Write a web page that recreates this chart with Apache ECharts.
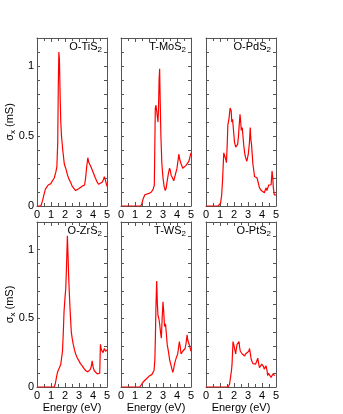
<!DOCTYPE html>
<html>
<head>
<meta charset="utf-8">
<script src="https://cdn.jsdelivr.net/npm/echarts@6/dist/echarts.min.js"></script>
<style>
  html, body { margin: 0; padding: 0; background: #fff; }
  #chart { width: 343px; height: 414px; }
</style>
</head>
<body>
<div id="chart"></div>
<script>
// panel names (sub "2" added as rich text)
const names = ["O-TiS", "T-MoS", "O-PdS", "O-ZrS", "T-WS", "O-PtS"];
const xTicks = [0, 1, 2, 3, 4, 5];
const yLabels = [0, 0.5, 1];

// O-TiS2
const tisE = [0, 0.28, 0.4, 0.52, 0.6, 0.64, 0.72, 0.8, 0.9, 0.99, 1.1, 1.23, 1.34, 1.42, 1.48, 1.52, 1.56, 1.6, 1.65, 1.7, 1.75, 1.84, 1.95, 2.05, 2.18, 2.29, 2.4, 2.52, 2.65, 2.76, 2.9, 3.0, 3.1, 3.2, 3.3, 3.4, 3.47, 3.55, 3.63, 3.7, 3.77, 3.85, 3.94, 4.05, 4.17, 4.3, 4.41, 4.53, 4.65, 4.75, 4.81, 4.9, 5.0];
const tisV = [0, 0, 0.04, 0.09, 0.12, 0.13, 0.12, 0.15, 0.14, 0.16, 0.18, 0.2, 0.24, 0.28, 0.45, 0.85, 1.1, 1.05, 0.8, 0.6, 0.5, 0.4, 0.3, 0.27, 0.22, 0.19, 0.17, 0.14, 0.13, 0.11, 0.12, 0.125, 0.12, 0.14, 0.13, 0.15, 0.2, 0.28, 0.345, 0.31, 0.3, 0.28, 0.27, 0.23, 0.2, 0.17, 0.155, 0.16, 0.17, 0.19, 0.21, 0.18, 0.14];
// T-MoS2
const mosE = [0, 1.42, 1.5, 1.58, 1.7, 1.82, 2.0, 2.17, 2.3, 2.38, 2.45, 2.5, 2.55, 2.6, 2.64, 2.68, 2.72, 2.76, 2.8, 2.85, 2.92, 3.0, 3.08, 3.16, 3.23, 3.3, 3.4, 3.47, 3.53, 3.58, 3.68, 3.77, 3.85, 3.9, 4.0, 4.08, 4.13, 4.2, 4.3, 4.41, 4.55, 4.65, 4.75, 4.85, 5.0];
const mosV = [0, 0, 0.02, 0.05, 0.08, 0.09, 0.09, 0.1, 0.12, 0.15, 0.7, 0.72, 0.73, 0.72, 0.6, 0.7, 0.9, 0.98, 0.75, 0.5, 0.3, 0.2, 0.14, 0.11, 0.13, 0.18, 0.24, 0.27, 0.25, 0.22, 0.2, 0.18, 0.17, 0.18, 0.27, 0.33, 0.37, 0.33, 0.3, 0.27, 0.27, 0.29, 0.3, 0.32, 0.38];
// O-PdS2
const pdsE = [0, 0.87, 0.95, 1.04, 1.12, 1.18, 1.27, 1.32, 1.37, 1.42, 1.46, 1.52, 1.56, 1.65, 1.72, 1.75, 1.8, 1.84, 1.9, 1.93, 2.0, 2.03, 2.12, 2.2, 2.26, 2.32, 2.36, 2.43, 2.48, 2.52, 2.59, 2.64, 2.69, 2.76, 2.83, 2.92, 3.02, 3.1, 3.16, 3.2, 3.25, 3.35, 3.47, 3.58, 3.65, 3.7, 3.82, 3.95, 4.06, 4.17, 4.29, 4.35, 4.41, 4.48, 4.53, 4.6, 4.65, 4.72, 4.77, 4.81, 4.88, 5.0];
const pdsV = [0, 0, 0.005, 0.02, 0.08, 0.18, 0.38, 0.37, 0.39, 0.33, 0.31, 0.45, 0.58, 0.63, 0.7, 0.71, 0.68, 0.6, 0.62, 0.58, 0.5, 0.46, 0.42, 0.42, 0.44, 0.5, 0.56, 0.655, 0.6, 0.54, 0.56, 0.5, 0.44, 0.38, 0.345, 0.32, 0.37, 0.45, 0.56, 0.48, 0.44, 0.3, 0.21, 0.22, 0.2, 0.21, 0.13, 0.11, 0.1, 0.095, 0.13, 0.11, 0.12, 0.15, 0.14, 0.155, 0.15, 0.25, 0.2, 0.13, 0.08, 0.08];
// O-ZrS2
const zrsE = [0, 1.23, 1.3, 1.39, 1.45, 1.51, 1.6, 1.7, 1.76, 1.82, 1.88, 1.93, 2.0, 2.05, 2.1, 2.17, 2.22, 2.26, 2.31, 2.36, 2.45, 2.52, 2.59, 2.68, 2.76, 2.88, 3.0, 3.1, 3.23, 3.35, 3.47, 3.63, 3.75, 3.82, 3.9, 3.94, 4.0, 4.08, 4.17, 4.3, 4.41, 4.48, 4.53, 4.6, 4.65, 4.72, 4.81, 4.9, 5.0];
const zrsV = [0, 0, 0.02, 0.07, 0.1, 0.12, 0.14, 0.166, 0.18, 0.26, 0.4, 0.545, 0.65, 0.71, 0.85, 1.1, 0.95, 0.81, 0.68, 0.57, 0.4, 0.35, 0.31, 0.27, 0.24, 0.21, 0.19, 0.17, 0.154, 0.135, 0.12, 0.11, 0.115, 0.13, 0.16, 0.19, 0.15, 0.12, 0.107, 0.095, 0.083, 0.1, 0.31, 0.27, 0.26, 0.25, 0.28, 0.26, 0.27];
// T-WS2
const wsE = [0, 1.34, 1.45, 1.58, 1.7, 1.82, 1.95, 2.05, 2.2, 2.36, 2.42, 2.45, 2.5, 2.55, 2.6, 2.64, 2.7, 2.76, 2.82, 2.88, 2.94, 3.0, 3.05, 3.11, 3.18, 3.23, 3.3, 3.4, 3.47, 3.58, 3.7, 3.76, 3.82, 3.94, 4.05, 4.12, 4.17, 4.22, 4.29, 4.35, 4.41, 4.5, 4.58, 4.65, 4.72, 4.77, 4.81, 4.9, 5.0];
const wsV = [0, 0, 0.01, 0.036, 0.04, 0.06, 0.07, 0.083, 0.09, 0.12, 0.2, 0.33, 0.6, 0.77, 0.6, 0.52, 0.5, 0.46, 0.4, 0.355, 0.5, 0.62, 0.55, 0.44, 0.46, 0.4, 0.31, 0.25, 0.2, 0.154, 0.107, 0.13, 0.166, 0.21, 0.24, 0.25, 0.33, 0.3, 0.24, 0.25, 0.26, 0.27, 0.28, 0.32, 0.38, 0.34, 0.33, 0.3, 0.26];
// O-PtS2
const ptsE = [0, 1.58, 1.68, 1.75, 1.82, 1.86, 1.93, 1.98, 2.03, 2.08, 2.12, 2.17, 2.22, 2.3, 2.36, 2.4, 2.45, 2.52, 2.59, 2.68, 2.76, 2.82, 2.88, 2.95, 3.0, 3.06, 3.11, 3.17, 3.23, 3.35, 3.45, 3.54, 3.62, 3.7, 3.76, 3.82, 3.9, 3.98, 4.05, 4.1, 4.16, 4.22, 4.29, 4.36, 4.41, 4.46, 4.52, 4.58, 4.65, 4.72, 4.78, 4.84, 4.92, 5.0];
const ptsV = [0, 0, 0.02, 0.07, 0.12, 0.166, 0.33, 0.31, 0.3, 0.26, 0.24, 0.28, 0.31, 0.32, 0.33, 0.29, 0.26, 0.25, 0.24, 0.23, 0.225, 0.24, 0.25, 0.24, 0.24, 0.26, 0.28, 0.24, 0.2, 0.17, 0.165, 0.166, 0.18, 0.21, 0.17, 0.14, 0.15, 0.166, 0.18, 0.15, 0.13, 0.14, 0.154, 0.12, 0.083, 0.1, 0.107, 0.09, 0.07, 0.08, 0.095, 0.085, 0.083];

const energies = [tisE, mosE, pdsE, zrsE, wsE, ptsE];
const values = [tisV, mosV, pdsV, zrsV, wsV, ptsV];

const chart = echarts.init(document.getElementById("chart"));
const FONT = "Liberation Sans";
const frameColor = "#555";
const lefts = [37, 121, 206];
const tops = [38, 222];
const W = 70, H = 168;

// fresh style objects each time so nothing is shared between axes
const tickOf = (len) => ({ show: true, inside: true, length: len, lineStyle: { color: frameColor, width: 1 } });
const minorOf = () => ({ show: true, splitNumber: 2, length: 3, lineStyle: { color: frameColor, width: 1 } });
const lineOf = () => ({ show: true, onZero: false, lineStyle: { color: frameColor, width: 1 } });

const grid = [], xAxis = [], yAxis = [], series = [], graphic = [];

for (let i = 0; i < 6; i++) {
  const col = i % 3, row = Math.floor(i / 3);
  grid.push({ left: lefts[col], top: tops[row], width: W, height: H });
  // bottom x axis (data axis)
  xAxis.push({
    gridIndex: i, type: "value", position: "bottom", min: 0, max: 5, interval: 1,
    axisLine: lineOf(), axisTick: tickOf(4), minorTick: minorOf(), splitLine: { show: false },
    axisLabel: { margin: 3, fontSize: 11, color: "#000", fontFamily: FONT },
    name: row === 1 ? "Energy (eV)" : "", nameLocation: "middle", nameGap: 15, nameMoveOverlap: false,
    nameTextStyle: { fontSize: 11, color: "#000", fontFamily: FONT },
  });
  // top x axis (ticks only)
  xAxis.push({
    gridIndex: i, type: "value", position: "top", min: 0, max: 5, interval: 1,
    axisLine: lineOf(), axisTick: tickOf(4), minorTick: minorOf(), splitLine: { show: false },
    axisLabel: { show: false },
  });
  // left y axis
  yAxis.push({
    gridIndex: i, type: "value", position: "left", min: 0, max: 1.2, interval: 0.1,
    axisLine: lineOf(), axisTick: tickOf(3),
    splitLine: { show: false },
    axisLabel: {
      show: col === 0, margin: 3, fontSize: 11, color: "#000", fontFamily: FONT,
      formatter: (v) => {
        const hit = yLabels.find((t) => Math.abs(t - v) < 1e-6);
        return hit === undefined ? "" : String(hit);
      },
    },
    name: col === 0 ? "{a|σ}{s|x}{a| (mS)}" : "", nameLocation: "middle", nameRotate: 90,
    nameGap: 20, nameMoveOverlap: false,
    nameTextStyle: {
      fontFamily: FONT, color: "#000",
      rich: {
        a: { fontSize: 11, fontFamily: FONT, color: "#000", lineHeight: 14 },
        s: { fontSize: 8, fontFamily: FONT, color: "#000", verticalAlign: "bottom", lineHeight: 9 },
      },
    },
  });
  // right y axis (ticks only)
  yAxis.push({
    gridIndex: i, type: "value", position: "right", min: 0, max: 1.2, interval: 0.1,
    axisLine: lineOf(), axisTick: tickOf(3),
    splitLine: { show: false }, axisLabel: { show: false },
  });
  series.push({
    type: "line", xAxisIndex: i * 2, yAxisIndex: i * 2,
    data: energies[i].map((e, k) => [e, values[i][k]]),
    showSymbol: false, lineStyle: { color: "#ff0000", width: 1.2 },
    silent: true, animation: false,
  });
  // panel label top right
  graphic.push({
    type: "text", right: 343 - (lefts[col] + W) + 5, top: tops[row] + 3,
    style: {
      text: "{a|" + names[i] + "}{s|2}",
      rich: {
        a: { fontSize: 11, fontFamily: FONT, fill: "#000", lineHeight: 14 },
        s: { fontSize: 8, fontFamily: FONT, fill: "#000", verticalAlign: "bottom", lineHeight: 9 },
      },
    },
  });
}

chart.setOption({
  animation: false,
  grid: grid,
  xAxis: xAxis,
  yAxis: yAxis,
  series: series,
  graphic: graphic,
});
</script>
</body>
</html>
